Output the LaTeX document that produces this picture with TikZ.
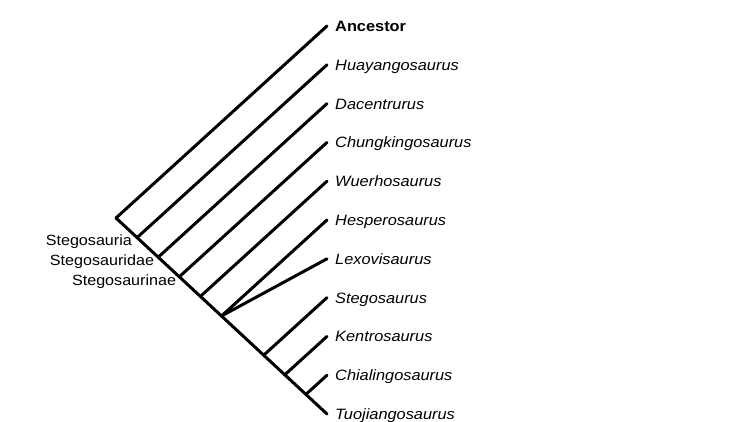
\documentclass[tikz,border=0pt]{standalone}
\usepackage{fontspec}
\setmainfont{Liberation Sans}
\newfontfamily\lblfont[FakeStretch=1.09]{Liberation Sans}
\usetikzlibrary{calc}
\begin{document}
\begin{tikzpicture}[x=1pt,y=-1pt,
  branch/.style={line width=3pt,line cap=round,line join=round},
  taxon/.style={anchor=base west,inner sep=0pt,font=\lblfont\fontsize{15}{18}\selectfont\itshape},
  clade/.style={anchor=base east,inner sep=0pt,font=\lblfont\fontsize{14.8}{17}\selectfont}]
\useasboundingbox (0,0) rectangle (750,422);
\coordinate (root) at (116,218);
\coordinate (end) at (327,414);
\foreach \k in {0,...,10}{
  \coordinate (t\k) at (327,{26+38.8*\k});
  \coordinate (n\k) at ($(root)!\k/10!(end)$);
}
\draw[branch] (root) -- (end);
\foreach \k in {0,1,2,3,4,5,7,8,9}{
  \draw[branch] (n\k) -- (t\k);
}
\draw[branch] (n5) -- (t6);
% taxon labels
\node[taxon,font=\lblfont\fontsize{15}{18}\selectfont\bfseries] (l0) at ($(t0)+(8,5.5)$) {Ancestor};
\node[taxon] (l1) at ($(t1)+(8,5.5)$) {Huayangosaurus};
\node[taxon] (l2) at ($(t2)+(8,5.5)$) {Dacentrurus};
\node[taxon] (l3) at ($(t3)+(8,5.5)$) {Chungkingosaurus};
\node[taxon] (l4) at ($(t4)+(8,5.5)$) {Wuerhosaurus};
\node[taxon] (l5) at ($(t5)+(8,5.5)$) {Hesperosaurus};
\node[taxon] (l6) at ($(t6)+(8,5.5)$) {Lexovisaurus};
\node[taxon] (l7) at ($(t7)+(8,5.5)$) {Stegosaurus};
\node[taxon] (l8) at ($(t8)+(8,5.5)$) {Kentrosaurus};
\node[taxon] (l9) at ($(t9)+(8,5.5)$) {Chialingosaurus};
\node[taxon] (l10) at ($(t10)+(8,5.5)$) {Tuojiangosaurus};
% clade labels
\node[clade] (c1) at ($(n1)+(-5,8)$) {Stegosauria};
\node[clade] (c2) at ($(n2)+(-4,8)$) {Stegosauridae};
\node[clade] (c3) at ($(n3)+(-3,9)$) {Stegosaurinae};
\end{tikzpicture}
\end{document}
